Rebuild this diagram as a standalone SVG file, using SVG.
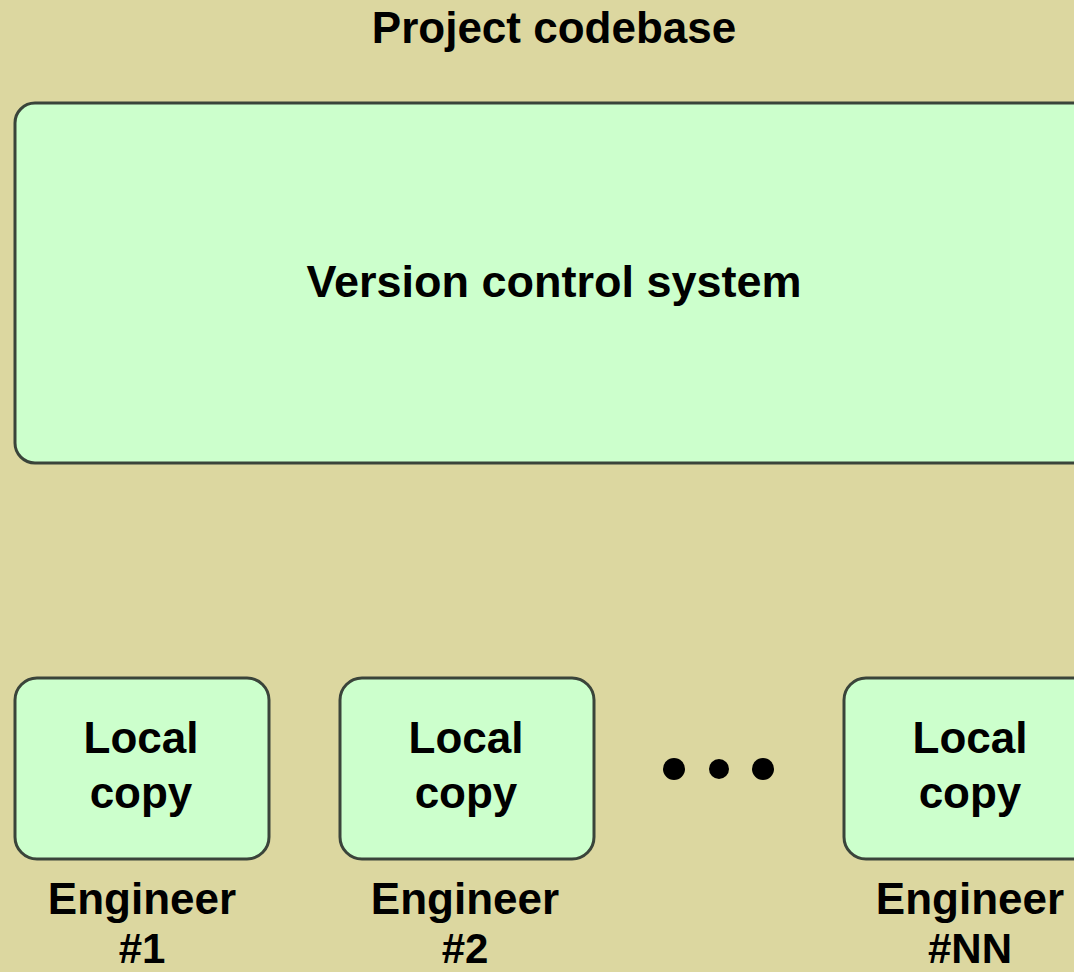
<svg xmlns="http://www.w3.org/2000/svg" width="1074" height="972" viewBox="0 0 1074 972">
<style>
.t{font-family:"Liberation Sans",Arial,sans-serif;font-weight:bold;fill:#000;text-anchor:middle}
.box{fill:#ccffcc;stroke:#3a443a;stroke-width:3}
</style>
<rect x="0" y="0" width="1074" height="972" fill="#dcd7a0"/>
<text class="t" x="554" y="43" font-size="44">Project codebase</text>
<g id="vcs">
<rect class="box" x="15" y="103" width="1100" height="360" rx="20"/>
<text class="t" x="554" y="297" font-size="45">Version control system</text>
</g>
<g id="local1">
<rect class="box" x="15" y="678" width="254" height="181" rx="22"/>
<text class="t" x="141" y="753" font-size="44">Local</text>
<text class="t" x="141" y="808" font-size="44">copy</text>
</g>
<g id="local2">
<rect class="box" x="340" y="678" width="254" height="181" rx="22"/>
<text class="t" x="466" y="753" font-size="44">Local</text>
<text class="t" x="466" y="808" font-size="44">copy</text>
</g>
<g id="localN">
<rect class="box" x="844" y="678" width="254" height="181" rx="22"/>
<text class="t" x="970" y="753" font-size="44">Local</text>
<text class="t" x="970" y="808" font-size="44">copy</text>
</g>
<g id="dots" fill="#000">
<circle cx="674" cy="769" r="11"/>
<circle cx="719" cy="769" r="10"/>
<circle cx="763" cy="769" r="11"/>
</g>
<g id="eng1">
<text class="t" x="142" y="914" font-size="44">Engineer</text>
<text class="t" x="142" y="963" font-size="42">#1</text>
</g>
<g id="eng2">
<text class="t" x="465" y="914" font-size="44">Engineer</text>
<text class="t" x="465" y="963" font-size="42">#2</text>
</g>
<g id="engN">
<text class="t" x="970" y="914" font-size="44">Engineer</text>
<text class="t" x="970" y="963" font-size="42">#NN</text>
</g>
<g id="connectors"/>
</svg>
